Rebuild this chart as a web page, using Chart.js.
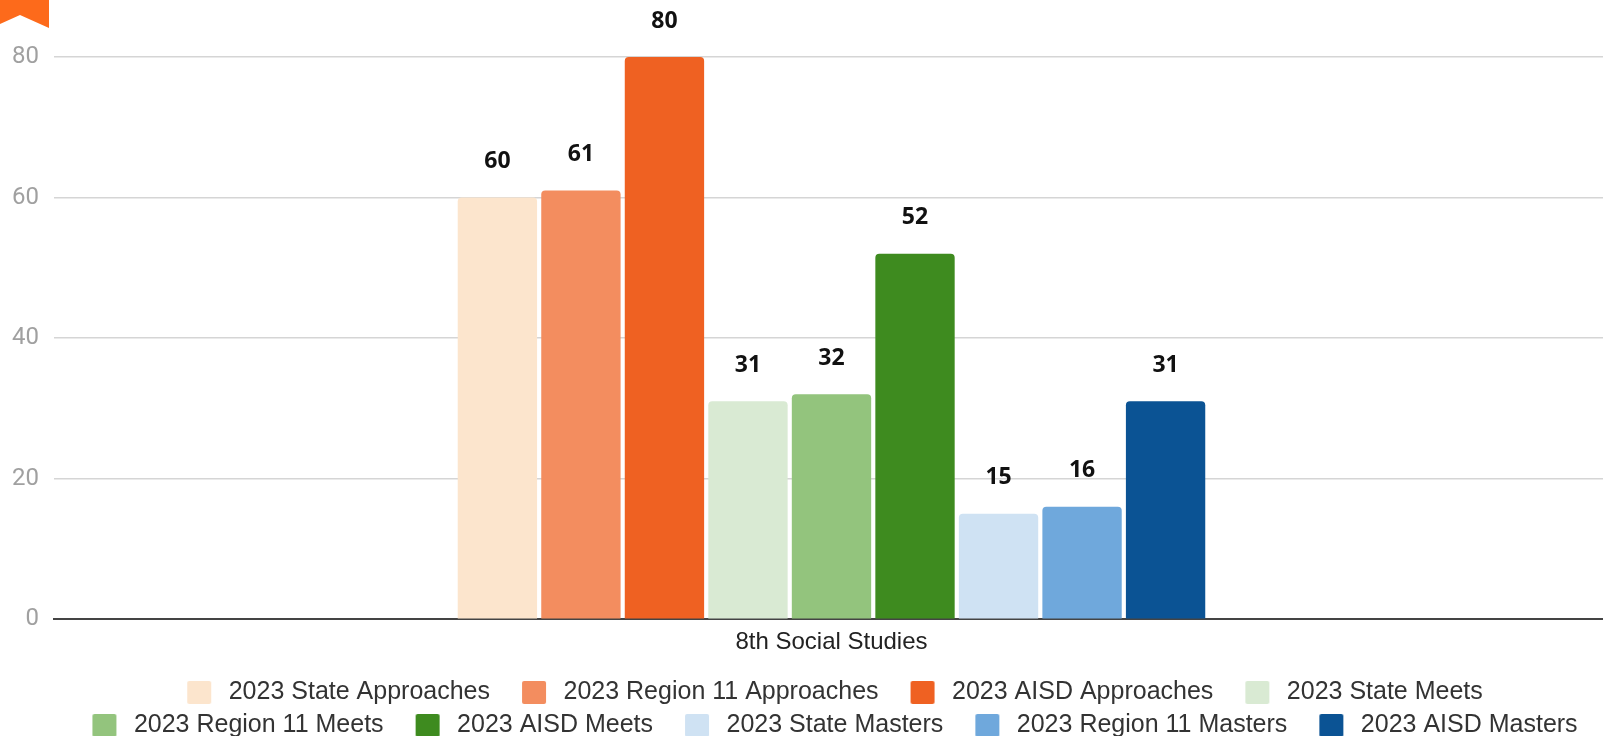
<!DOCTYPE html>
<html>
<head>
<meta charset="utf-8">
<script src="https://cdn.jsdelivr.net/npm/chart.js@4/dist/chart.umd.min.js"></script>
<style>
  body { margin: 0; background: #fff; overflow: hidden; }
  #wrap { position: relative; width: 1603px; height: 736px; overflow: hidden; }
  #flag { position: absolute; left: 0; top: 0; }
</style>
</head>
<body>
<div id="wrap">
  <!-- plot runs a little past the right edge, as in the original -->
  <canvas id="scoreChart" width="1609" height="736"></canvas>
  <svg id="flag" width="50" height="30"><polygon points="0,0 49,0 49,28 20,15 0,24" fill="#fd6a1b"/></svg>
</div>
<script>
const categories = ['8th Social Studies'];
const seriesNames = [
    '2023 State Approaches', '2023 Region 11 Approaches', '2023 AISD Approaches',
    '2023 State Meets', '2023 Region 11 Meets', '2023 AISD Meets',
    '2023 State Masters', '2023 Region 11 Masters', '2023 AISD Masters'
];
const seriesValues = [[60], [61], [80], [31], [32], [52], [15], [16], [31]];
const seriesColors = [
    '#fce5cd', '#f38d5f', '#ef6122',
    '#d9ead3', '#93c47d', '#3e8b1f',
    '#cfe2f3', '#6fa8dc', '#0b5394'
];
const yMin = 0;
const yMax = 80;
const yStep = 20;

// legend swatch with some room on both sides
function makeSwatch(color) {
    const c = document.createElement('canvas');
    c.width = 53;
    c.height = 23;
    const g = c.getContext('2d');
    g.fillStyle = color;
    g.beginPath();
    g.roundRect(24, 0, 24, 23, 2);
    g.fill();
    return c;
}
const swatches = seriesColors.map(makeSwatch);

const valueLabels = {
    id: 'valueLabels',
    afterDatasetsDraw(chart) {
        const ctx = chart.ctx;
        ctx.save();
        ctx.font = 'bold 23px "Open Sans"';
        ctx.fillStyle = '#111';
        ctx.textAlign = 'center';
        ctx.textBaseline = 'middle';
        chart.data.datasets.forEach((ds, i) => {
            chart.getDatasetMeta(i).data.forEach((bar, j) => {
                ctx.fillText(ds.data[j], bar.x, bar.y - 36);
            });
        });
        ctx.restore();
    }
};

const legendShift = {
    id: 'legendShift',
    afterLayout(chart) {
        const lg = chart.legend;
        lg.left += 20; lg.right += 20;
        lg.top += 6; lg.bottom += 6;
    }
};

const ctx = document.getElementById('scoreChart');
const myChart = new Chart(ctx, {
    type: 'bar',
    data: {
        labels: categories,
        datasets: seriesNames.map((name, i) => ({
            label: name,
            data: seriesValues[i],
            backgroundColor: seriesColors[i],
            borderRadius: 4,
            borderWidth: 0,
            categoryPercentage: 0.4834,
            barPercentage: 0.95
        }))
    },
    plugins: [valueLabels, legendShift],
    options: {
        responsive: false,
        animation: false,
        layout: {
            padding: { top: 57, left: -3, right: 0, bottom: -6 }
        },
        plugins: {
            tooltip: { enabled: false },
            legend: {
                position: 'bottom',
                labels: {
                    usePointStyle: true,
                    pointStyleWidth: 53,
                    padding: 8,
                    color: '#333',
                    font: { family: '"Liberation Sans", Arial, sans-serif', size: 25 },
                    generateLabels(chart) {
                        const items = Chart.defaults.plugins.legend.labels.generateLabels(chart);
                        items.forEach((it, i) => { it.pointStyle = swatches[i]; });
                        return items;
                    }
                }
            }
        },
        scales: {
            x: {
                grid: { display: false, drawTicks: false },
                border: { display: true, color: '#444', width: 2 },
                ticks: {
                    color: '#222',
                    padding: 9,
                    font: { family: '"Liberation Sans", Arial, sans-serif', size: 24 }
                }
            },
            y: {
                min: yMin,
                max: yMax,
                grid: { color: '#d5d5d5', lineWidth: 1.5, drawTicks: false },
                border: { display: false },
                ticks: {
                    stepSize: yStep,
                    color: '#a0a0a0',
                    padding: 15,
                    font: { family: 'Roboto', size: 24 }
                }
            }
        }
    }
});
</script>
</body>
</html>
